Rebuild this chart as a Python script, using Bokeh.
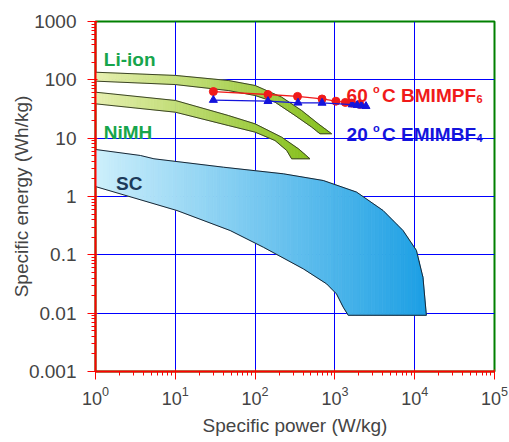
import numpy as np
from bokeh.plotting import figure
from bokeh.models import FixedTicker, CustomJSTickFormatter, ColumnDataSource
from bokeh.core.properties import value
from bokeh.embed import file_html
from bokeh.resources import INLINE

# ---------------- data ----------------
liion_upper_x = [1, 10, 46, 100, 215, 383, 620, 910]
liion_upper_y = [135, 119, 97.5, 80, 50.5, 29.8, 17.6, 11.9]
liion_lower_x = [1, 10, 46, 100, 178, 316, 511, 650]
liion_lower_y = [95, 83, 65.6, 53.9, 41.4, 24.5, 15.5, 11.9]

nimh_upper_x = [1, 10, 46, 100, 215, 350, 487]
nimh_upper_y = [61.4, 44.3, 24.5, 17.6, 10.4, 6.56, 4.43]
nimh_lower_x = [1, 10, 46, 100, 178, 249, 287]
nimh_lower_y = [38.8, 27.9, 16.5, 12.7, 9.1, 6.15, 4.43]

sc_upper_x = [1, 3.65, 5.4, 40, 226, 714, 1867, 4016, 7140, 10500, 12700, 14000]
sc_upper_y = [6.4, 5.05, 4.43, 3.18, 2.45, 1.88, 1.19, 0.575, 0.261, 0.119, 0.041, 0.0092]
sc_lower_x = [1, 10.5, 48.7, 127, 402, 787, 1047, 1270, 1468]
sc_lower_y = [1.48, 0.575, 0.261, 0.135, 0.0575, 0.0318, 0.0214, 0.0127, 0.0092]

bmim_power = [30, 145, 340, 690, 1030, 1350, 1620, 2050]
bmim_energy = [63, 56, 52, 47, 43, 41, 40, 38]
emim_power = [30, 145, 345, 690, 1650, 1900, 2150, 2450]
emim_energy = [45, 43, 40.4, 40.2, 37.7, 36.8, 36, 35.3]

x_ticks = [1, 10, 100, 1000, 10000, 100000]
y_ticks = [0.001, 0.01, 0.1, 1, 10, 100, 1000]

FONT = "Liberation Sans"

# ---------------- helpers ----------------
def clip(pts, keep, inter):
    out = []
    n = len(pts)
    for i in range(n):
        cur, prev = pts[i], pts[i - 1]
        if keep(cur):
            if not keep(prev):
                out.append(inter(prev, cur))
            out.append(cur)
        elif keep(prev):
            out.append(inter(prev, cur))
    return out

def xinter(c):
    def f(p, q):
        t = (c - p[0]) / (q[0] - p[0])
        return (c, p[1] + t * (q[1] - p[1]))
    return f

def hex2rgb(h):
    h = h.lstrip("#")
    return np.array([int(h[i:i + 2], 16) for i in (0, 2, 4)], float)

def gradient_region(p, ux, uy, lx, ly, c0, c1, line_color, n=70):
    xs = list(np.log10(ux)) + list(np.log10(lx))[::-1]
    ys = list(np.log10(uy)) + list(np.log10(ly))[::-1]
    pts = list(zip(xs, ys))
    xmin, xmax = min(xs), max(xs)
    edges = np.linspace(xmin, xmax, n + 1)
    a, b = hex2rgb(c0), hex2rgb(c1)
    pxs, pys, cols = [], [], []
    for i in range(n):
        x0, x1 = edges[i], edges[i + 1]
        part = clip(pts, lambda q: q[0] >= x0, xinter(x0))
        if not part:
            continue
        part = clip(part, lambda q: q[0] <= x1, xinter(x1))
        if len(part) < 3:
            continue
        t = (i + 0.5) / n
        c = a + (b - a) * t
        pxs.append([10 ** q[0] for q in part])
        pys.append([10 ** q[1] for q in part])
        cols.append("#%02x%02x%02x" % tuple(int(round(v)) for v in c))
    src = ColumnDataSource(dict(xs=pxs, ys=pys, c=cols))
    p.patches("xs", "ys", source=src, fill_color="c", line_color="c", line_width=0.8)
    p.patch(list(ux) + list(lx)[::-1], list(uy) + list(ly)[::-1],
            fill_alpha=0, line_color=line_color, line_width=1)

# ---------------- figure ----------------
p = figure(width=509, height=442, x_axis_type="log", y_axis_type="log",
           x_range=(1, 1e5), y_range=(1e-3, 1e3),
           output_backend="svg", toolbar_location=None,
           min_border_left=95, min_border_right=15, min_border_top=21, min_border_bottom=71)

p.outline_line_color = "green"
p.outline_line_width = 2

for ax, ticks in ((p.xaxis[0], x_ticks), (p.yaxis[0], y_ticks)):
    minor = [t * k for t in ticks[:-1] for k in range(2, 10)]
    ax.ticker = FixedTicker(ticks=ticks, minor_ticks=minor)
    ax.axis_line_color = "red"
    ax.axis_line_width = 2
    ax.major_tick_line_color = "red"
    ax.minor_tick_line_color = "red"
    ax.major_tick_out = 8
    ax.major_tick_in = 2
    ax.minor_tick_out = 4
    ax.minor_tick_in = 0
    ax.major_label_text_font = FONT
    ax.major_label_text_font_size = "19px"
    ax.axis_label_text_font = FONT
    ax.axis_label_text_font_size = "19px"
    ax.axis_label_text_font_style = "normal"

p.xaxis.major_label_text_font_size = "18px"
p.yaxis[0].formatter = CustomJSTickFormatter(code="return String(tick);")
p.xaxis.axis_label = "Specific power (W/kg)"
p.yaxis.axis_label = "Specific energy (Wh/kg)"
p.xaxis.major_label_standoff = 6
p.xaxis.axis_label_standoff = 7
p.yaxis.major_label_standoff = 11
p.yaxis.axis_label_standoff = -6

for g, ticks in ((p.xgrid[0], x_ticks), (p.ygrid[0], y_ticks)):
    g.ticker = FixedTicker(ticks=ticks)
    g.grid_line_color = "blue"
    g.grid_line_width = 1

# regions
gradient_region(p, liion_upper_x, liion_upper_y, liion_lower_x, liion_lower_y,
                "#e6efb0", "#86c01c", "#3c4428")
gradient_region(p, nimh_upper_x, nimh_upper_y, nimh_lower_x, nimh_lower_y,
                "#e6efb0", "#86c01c", "#3c4428")
gradient_region(p, sc_upper_x, sc_upper_y, sc_lower_x, sc_lower_y,
                "#cdeffb", "#1c9fe4", "#1a2633", n=90)

# series
RED = "#f01a1a"
BLUE = "#1414dc"
p.line(bmim_power, bmim_energy, line_color=RED, line_width=1.3)
p.scatter(bmim_power, bmim_energy, marker="circle", size=8, fill_color=RED, line_color=RED)
p.line(emim_power, emim_energy, line_color=BLUE, line_width=1.3)
p.scatter(emim_power, emim_energy, marker="triangle", size=8, fill_color=BLUE, line_color=BLUE)

# labels
def txt(x, y, s, color, size="19px", dx=0, dy=0, style="bold"):
    p.text(x=[x], y=[y], text=[s], text_color=color, text_font=value(FONT),
           text_font_size=size, text_font_style=style, text_align="left",
           text_baseline="alphabetic", x_offset=dx, y_offset=dy)

GREEN = "#17a54c"
txt(1.27, 223, "Li-ion", GREEN)
txt(1.27, 12.4, "NiMH", GREEN)
txt(1.81, 1.65, "SC", "#1c3a5a")

txt(1400, 53.8, "60", RED)
txt(1400, 53.8, "o", RED, size="11px", dx=26.4, dy=-6.7)
txt(1400, 53.8, "C BMIMPF", RED, dx=35.5)
txt(1400, 53.8, "6", RED, size="11px", dx=130, dy=3.3)

txt(1400, 11.6, "20", BLUE)
txt(1400, 11.6, "o", BLUE, size="11px", dx=26.4, dy=-6.7)
txt(1400, 11.6, "C EMIMBF", BLUE, dx=35.5)
txt(1400, 11.6, "4", BLUE, size="11px", dx=130, dy=3.3)

open("out.html", "w").write(file_html(p, INLINE))
